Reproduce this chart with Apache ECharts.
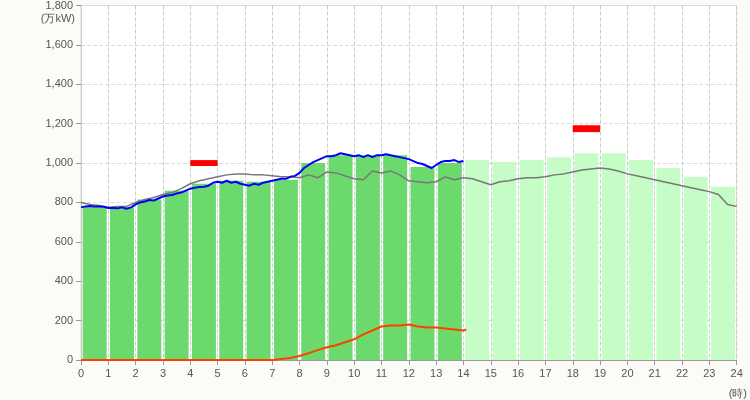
<!DOCTYPE html>
<html><head><meta charset="utf-8">
<script src="https://cdn.jsdelivr.net/npm/echarts@6/dist/echarts.min.js"></script>
<style>html,body{margin:0;background:#fbfbf8}#main{width:750px;height:400px}</style>
</head><body><div id="main"></div>
<script>
// hourly bars: actual (0-13) and forecast (14-23)
var actualBars = [780,775,815,860,895,910,905,915,1000,1040,1040,1040,980,1000];
var forecastBars = [1015,1005,1015,1030,1050,1050,1015,975,930,880];
// 10-minute actual demand, 0:00 .. 14:00 (+14:10)
var blueVals = [
  775,780,782,780,780,778, 772,772,770,775,768,775, 790,800,805,812,810,820,
  830,835,838,845,850,860, 870,875,878,880,885,900, 905,900,910,900,905,895,
  890,885,895,890,900,905, 910,915,920,920,930,935, 950,975,990,1005,1015,1025,
  1035,1035,1040,1050,1045,1040, 1035,1040,1030,1040,1030,1040, 1040,1045,1040,1035,1030,1025,
  1020,1010,1000,995,985,975, 990,1005,1010,1010,1015,1005, 1010];
// 20-minute reference line, 0:00 .. 24:00
var grayVals = [
  800,790,785, 775,780,780, 800,815,825, 840,850,870, 895,910,920, 930,940,945,
  945,940,940, 935,930,930, 925,940,925, 955,950,935, 920,915,960, 950,960,940,
  910,905,900, 905,930,915, 925,920,905, 890,905,910, 920,925,925, 930,940,945,
  955,965,970, 975,970,960, 945,935,925, 915,905,895, 885,875,865, 855,840,790, 780];
// solar, 20-minute from 7:00 (zero before)
var solarVals = [0,5,10, 20,35,50, 65,75,90, 105,130,150, 170,175,175, 180,170,165, 165,160,155, 150];
var peakMarks = [[4,5,985,1015],[18,19,1157,1192]];

var blue = blueVals.map(function(v,i){return [i/6, v];});
var gray = grayVals.map(function(v,i){return [i/3, v];});
var solar = [[0,0]].concat(solarVals.map(function(v,i){return [7+i/3, v];}));
solar.push([14.1,155]);
var bars = actualBars.map(function(v,i){return {value:[i+0.5,v], itemStyle:{color:'#6cd96c'}};})
  .concat(forecastBars.map(function(v,i){return {value:[i+14.5,v], itemStyle:{color:'#c6fcc6'}};}));

var chart = echarts.init(document.getElementById('main'));
chart.setOption({
  animation:false,
  backgroundColor:'#fbfbf8',
  grid:{left:81,right:12,top:5,bottom:40,show:true,backgroundColor:'#fff',borderColor:'#ddd'},
  xAxis:{type:'value',min:0,max:24,interval:1,name:'(時)',nameLocation:'end',nameGap:-8,
    nameTextStyle:{color:'#555',fontSize:11,verticalAlign:'top',padding:[28,0,0,0]},
    axisLine:{lineStyle:{color:'#999'}},axisTick:{lineStyle:{color:'#999'}},
    axisLabel:{color:'#555',fontSize:11},
    splitLine:{lineStyle:{type:'dashed',color:'#ccc'}}},
  yAxis:{type:'value',min:0,max:1800,interval:200,name:'(万kW)',nameLocation:'end',nameGap:-8,
    nameTextStyle:{color:'#555',fontSize:11,align:'right',padding:[0,6,0,0],verticalAlign:'top'},
    axisLine:{show:true,lineStyle:{color:'#ccc'}},axisTick:{show:true,lineStyle:{color:'#999'}},
    axisLabel:{color:'#555',fontSize:11},
    splitLine:{lineStyle:{type:'dashed',color:'#ddd'}}},
  series:[
    {type:'bar',data:bars,barWidth:24,z:1},
    {type:'custom',z:3,data:peakMarks,renderItem:function(p,api){
      var a=api.coord([api.value(0),api.value(3)]),b=api.coord([api.value(1),api.value(2)]);
      return {type:'rect',shape:{x:a[0],y:a[1],width:b[0]-a[0],height:b[1]-a[1]},style:{fill:'#ff0000'}};
    }},
    {type:'line',data:gray,showSymbol:false,lineStyle:{color:'#777',width:1.5},z:4},
    {type:'line',data:blue,showSymbol:false,lineStyle:{color:'#0000ff',width:2},z:5},
    {type:'line',data:solar,showSymbol:false,lineStyle:{color:'#ff4000',width:2},z:5}
  ]
});
</script></body></html>
